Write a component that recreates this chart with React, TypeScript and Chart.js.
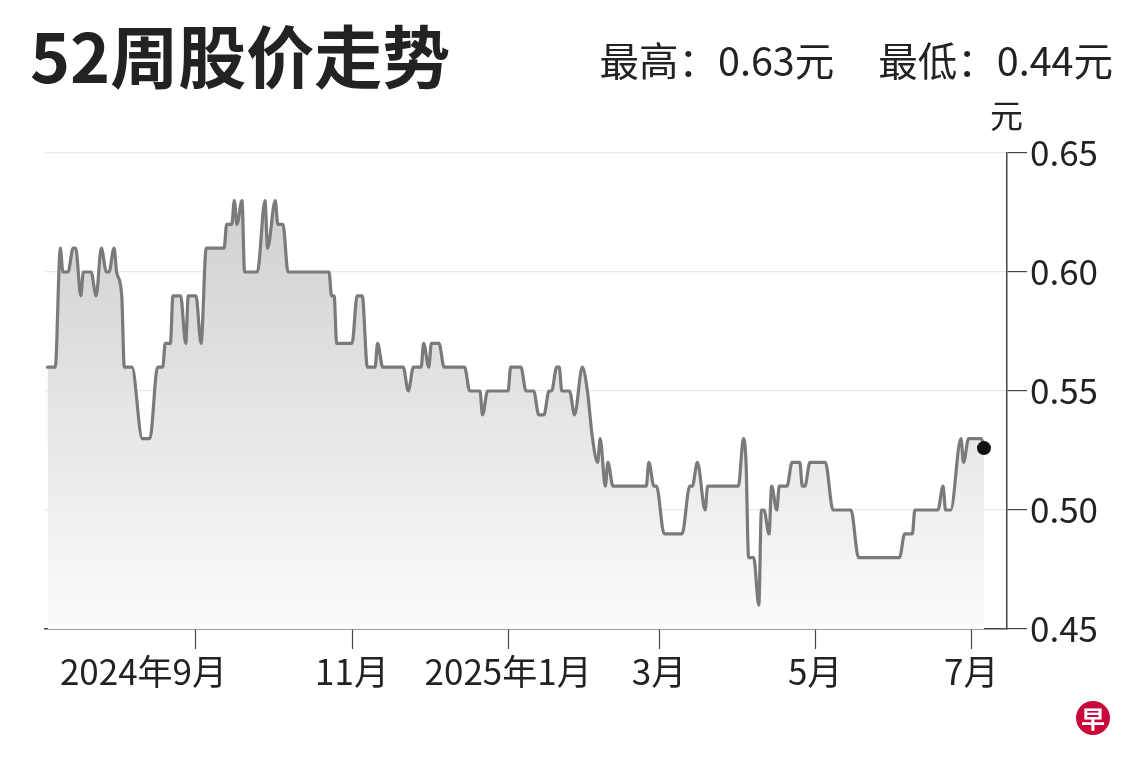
import React, { useEffect, useRef } from "react";
import { Chart, registerables } from "chart.js";

Chart.register(...registerables);

// Day offsets from 2024-09-01 and closing prices (元)
const days: number[] = [
  -58, -55, -53, -52, -50, -48, -47, -45, -44, -41, -39, -37, -35, -34, -32, -31, -29, -28, -25, -21,
  -18, -15, -13, -12, -10, -9, -6, -4, -3, 0, 2, 4, 11, 12, 14, 15, 16, 18, 19, 24,
  27, 28, 31, 32, 34, 36, 52, 53, 54, 55, 61, 63, 65, 67, 70, 71, 73, 81, 83, 85,
  88, 89, 91, 92, 95, 97, 105, 107, 111, 112, 114, 122, 123, 127, 129, 132, 134, 136, 138, 139,
  141, 142, 143, 146, 148, 151, 153, 155, 157, 158, 160, 161, 163, 176, 177, 179, 180, 183, 190, 193,
  194, 196, 199, 200, 212, 214, 215, 216, 218, 220, 221, 222, 224, 225, 227, 228, 231, 233, 236, 237,
  238, 240, 246, 249, 256, 259, 275, 277, 280, 281, 290, 292, 293, 295, 299, 300, 302, 307, 308,
];
const prices: number[] = [
  0.56, 0.56, 0.61, 0.6, 0.6, 0.61, 0.61, 0.59, 0.6, 0.6, 0.59, 0.61, 0.6, 0.6, 0.61, 0.6, 0.59, 0.56, 0.56, 0.53,
  0.53, 0.56, 0.56, 0.57, 0.57, 0.59, 0.59, 0.57, 0.59, 0.59, 0.57, 0.61, 0.61, 0.62, 0.62, 0.63, 0.62, 0.63, 0.6, 0.6,
  0.63, 0.61, 0.63, 0.62, 0.62, 0.6, 0.6, 0.59, 0.59, 0.57, 0.57, 0.59, 0.59, 0.56, 0.56, 0.57, 0.56, 0.56, 0.55, 0.56,
  0.56, 0.57, 0.56, 0.57, 0.57, 0.56, 0.56, 0.55, 0.55, 0.54, 0.55, 0.55, 0.56, 0.56, 0.55, 0.55, 0.54, 0.54, 0.55, 0.55,
  0.56, 0.56, 0.55, 0.55, 0.54, 0.56, 0.55, 0.53, 0.52, 0.53, 0.51, 0.52, 0.51, 0.51, 0.52, 0.51, 0.51, 0.49, 0.49, 0.51,
  0.51, 0.52, 0.5, 0.51, 0.51, 0.53, 0.52, 0.48, 0.48, 0.46, 0.5, 0.5, 0.49, 0.51, 0.5, 0.51, 0.51, 0.52, 0.52, 0.51,
  0.51, 0.52, 0.52, 0.5, 0.5, 0.48, 0.48, 0.49, 0.49, 0.5, 0.5, 0.51, 0.5, 0.5, 0.53, 0.52, 0.53, 0.53, 0.526,
];

// Month ticks (day offsets from 2024-09-01) and their labels
const monthTicks: number[] = [0, 61, 122, 181, 242, 303];
const monthLabels: string[] = ["2024年9月\u3000\u3000\u3000", "11月", "2025年1月", "3月", "5月", "7月"];

const yTicks: number[] = [0.45, 0.5, 0.55, 0.6, 0.65];

const title = "52周股价走势";
const highText = "最高：0.63元";
const lowText = "最低：0.44元";
const unitText = "元";

const FONT = '"Noto Sans CJK SC", "Noto Sans", sans-serif';

export default function App() {
  const ref = useRef<HTMLCanvasElement | null>(null);

  useEffect(() => {
    document.body.style.margin = "0";
    const canvas = ref.current;
    if (!canvas) return;
    const last = days.length - 1;
    const chart = new Chart(canvas, {
      type: "line",
      data: {
        datasets: [
          {
            data: days.map((d, i) => ({ x: d, y: prices[i] })),
            borderColor: "#7a7a7a",
            borderWidth: 3.2,
            cubicInterpolationMode: "monotone",
            borderJoinStyle: "round",
            borderCapStyle: "round",
            fill: "start",
            backgroundColor: (ctx: any) => {
              const area = ctx.chart.chartArea;
              if (!area) return "rgba(0,0,0,0.1)";
              const g = ctx.chart.ctx.createLinearGradient(0, area.top, 0, area.bottom);
              g.addColorStop(0, "#cbcbcb");
              g.addColorStop(1, "#fbfbfb");
              return g;
            },
            pointRadius: (ctx: any) => (ctx.dataIndex === last ? 7 : 0),
            pointHoverRadius: 0,
            pointBackgroundColor: "#111",
            pointBorderWidth: 0,
          },
        ],
      },
      options: {
        animation: false,
        responsive: false,
        maintainAspectRatio: false,
        layout: { padding: { top: 153, left: 45, right: 0, bottom: 0 } },
        plugins: { legend: { display: false }, tooltip: { enabled: false } },
        scales: {
          x: {
            type: "linear",
            min: -59,
            max: 317,
            afterFit: (s: any) => {
              s.height = 131;
            },
            afterBuildTicks: (s: any) => {
              s.ticks = monthTicks.map((v) => ({ value: v }));
            },
            grid: {
              drawOnChartArea: false,
              drawTicks: true,
              tickLength: 20,
              tickColor: "#444",
              tickWidth: 1.2,
            },
            border: { display: true, color: "#444", width: 1.5 },
            ticks: {
              autoSkip: false,
              maxRotation: 0,
              padding: 2,
              color: "#222",
              font: { family: FONT, size: 35 },
              callback: (v: any) => {
                const i = monthTicks.indexOf(Number(v));
                return i >= 0 ? monthLabels[i] : "";
              },
            },
          },
          y: {
            position: "right",
            min: 0.45,
            max: 0.65,
            afterFit: (s: any) => {
              s.width = 133;
            },
            afterBuildTicks: (s: any) => {
              s.ticks = yTicks.map((v) => ({ value: v }));
            },
            grid: {
              color: "#e8e8e8",
              lineWidth: 1.2,
              tickLength: 20,
              tickColor: "#444",
              tickWidth: 1.2,
            },
            border: { display: true, color: "#444", width: 1.5 },
            ticks: {
              padding: 3,
              color: "#222",
              font: { family: FONT, size: 35 },
              callback: (v: any) => Number(v).toFixed(2),
            },
          },
        },
      },
    });
    return () => chart.destroy();
  }, []);

  return (
    <div style={{ position: "relative", width: 1140, height: 760, background: "#fff", overflow: "hidden" }}>
      <canvas ref={ref} width={1140} height={760} style={{ position: "absolute", left: 0, top: 0, width: 1140, height: 760 }} />
      <div
        style={{
          position: "absolute",
          left: 30,
          top: 17,
          fontFamily: FONT,
          fontWeight: 700,
          fontSize: 68,
          lineHeight: 1.1,
          color: "#222",
          whiteSpace: "nowrap",
        }}
      >
        {title}
      </div>
      <div
        style={{
          position: "absolute",
          right: 27,
          top: 35,
          fontFamily: FONT,
          fontSize: 39.5,
          lineHeight: 1.2,
          color: "#222",
          whiteSpace: "nowrap",
        }}
      >
        {highText}
        <span style={{ display: "inline-block", width: 44 }} />
        {lowText}
      </div>
      <div
        style={{
          position: "absolute",
          left: 990,
          top: 95,
          fontFamily: FONT,
          fontSize: 33,
          lineHeight: 1.2,
          color: "#222",
        }}
      >
        {unitText}
      </div>
      <div
        style={{
          position: "absolute",
          left: 1076,
          top: 701,
          width: 34,
          height: 34,
          borderRadius: "50%",
          background: "#c8083a",
          color: "#fff",
          fontFamily: FONT,
          fontWeight: 700,
          fontSize: 24,
          lineHeight: "34px",
          textAlign: "center",
        }}
      >
        早
      </div>
    </div>
  );
}
